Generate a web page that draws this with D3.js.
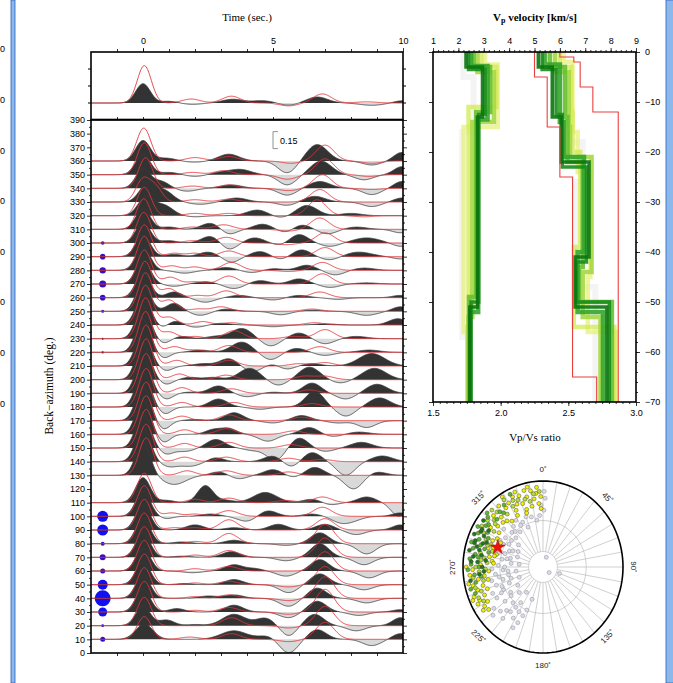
<!DOCTYPE html>
<html>
<head>
<meta charset="utf-8">
<script src="https://cdn.jsdelivr.net/npm/d3@7"></script>
<style>
  body { margin: 0; background: #fff; }
  svg { display: block; font-family: "Liberation Sans", Arial, sans-serif; }
  .serif { font-family: "Liberation Serif", "Times New Roman", serif; }
  .axis text { font-size: 9px; fill: #000; }
  .axis line { stroke: #000; stroke-width: 0.8; }
</style>
</head>
<body>
<div id="chart"></div>
<script>
// ---- receiver functions: pulses [time, amplitude, width] ----
var stackObs = [[0,0.17,.28],[1.0,0.015,.3],[1.9,-0.012,.35],[3.45,0.033,.4],[4.6,0.02,.4],[5.6,-0.02,.35],[6.7,0.053,.4],[8.8,-0.02,.45],[9.95,0.02,.3]];
var stackSyn = [[0.05,0.33,.27],[1.85,0.035,.35],[3.4,0.06,.35],[5.6,-0.025,.35],[6.9,0.08,.35],[8.6,0.01,.4]];

var traceBaz = [360,350,340,330,320,310,300,290,280,270,260,250,240,230,220,210,200,190,180,170,160,150,140,130,110,100,90,80,70,60,50,40,30,20,10];

var traceObs = [
  [[0,0.18,.28],[0.9,0.025,.35],[2.0,-0.01,.4],[3.3,0.06,.4],[5.55,-0.105,.35],[6.7,0.145,.4],[8.8,-0.035,.35],[9.95,0.075,.3]],
  [[0,0.18,.28],[1.0,0.02,.35],[2.0,-0.015,.35],[3.0,0.02,.35],[3.75,0.045,.4],[5.55,-0.09,.35],[6.85,0.12,.4],[8.5,-0.045,.35],[9.95,0.07,.3]],
  [[0,0.17,.28],[0.7,0.06,.3],[1.7,-0.025,.35],[3.4,0.03,.4],[5.55,-0.06,.35],[6.8,0.06,.4],[8.8,-0.055,.35],[9.95,0.06,.3]],
  [[0.15,0.15,.3],[0.8,0.1,.35],[2.2,-0.02,.4],[3.6,0.035,.4],[5.55,-0.03,.35],[6.6,0.05,.4],[8.8,-0.04,.35],[9.95,0.035,.3]],
  [[0.1,0.16,.3],[0.8,0.09,.35],[2.0,-0.01,.35],[4.4,0.05,.4],[5.3,-0.02,.35],[6.3,0.09,.4],[8.0,0.02,.4]],
  [[0,0.18,.28],[1.0,0.02,.3],[2.6,0.055,.35],[3.3,-0.045,.3],[4.6,0.045,.35],[5.5,-0.03,.3],[6.1,0.04,.35],[7.1,-0.04,.35],[8.2,0.02,.4],[9.9,-0.03,.3]],
  [[0,0.18,.28],[1.0,0.02,.3],[2.6,0.06,.35],[3.3,-0.06,.3],[4.3,0.045,.35],[5.3,-0.02,.3],[6.0,0.075,.35],[7.2,-0.03,.35],[8.6,0.045,.5],[9.9,-0.03,.3]],
  [[0,0.19,.28],[1.2,0.02,.3],[2.5,0.04,.35],[3.4,-0.05,.3],[4.5,0.045,.35],[5.3,-0.025,.3],[6.1,0.06,.35],[7.2,-0.03,.35],[8.3,0.04,.5],[9.9,-0.02,.3]],
  [[0,0.2,.28],[1.6,-0.025,.35],[3.2,0.025,.35],[4.2,-0.02,.35],[5.0,0.015,.35],[6.3,0.045,.35],[7.4,-0.04,.35],[8.5,0.02,.4]],
  [[0,0.21,.28],[1.2,-0.02,.3],[2.4,0.02,.35],[3.5,-0.04,.35],[4.5,0.03,.35],[6.0,0.045,.35],[7.2,-0.03,.35],[8.6,0.01,.4]],
  [[0,0.22,.28],[1.2,0.05,.3],[2.4,-0.04,.35],[3.7,0.02,.35],[5.0,-0.02,.35],[6.0,0.02,.35],[7.5,-0.015,.35],[9.9,0.02,.3]],
  [[0,0.24,.28],[1.2,0.07,.3],[2.2,-0.035,.35],[3.2,0.02,.35],[5.3,-0.03,.35],[6.5,0.01,.35],[8.6,-0.035,.4],[9.9,0.04,.3]],
  [[0,0.26,.28],[0.8,-0.03,.25],[1.2,0.04,.3],[2.0,-0.02,.35],[3.0,0.015,.35],[5.0,-0.015,.4],[7.0,0.01,.4],[9.8,0.055,.35]],
  [[0,0.28,.28],[0.8,-0.04,.25],[1.5,0.02,.3],[2.8,0.02,.35],[3.8,0.09,.4],[4.9,-0.065,.35],[6.0,0.05,.35],[7.0,-0.045,.35],[8.2,0.02,.4]],
  [[0,0.29,.28],[0.8,-0.05,.25],[2.2,0.02,.35],[3.8,0.09,.4],[4.9,-0.065,.35],[5.9,0.035,.35],[7.0,-0.027,.35],[8.7,0.02,.4]],
  [[0,0.3,.28],[0.9,-0.04,.25],[2.3,0.02,.35],[3.3,0.065,.35],[4.2,-0.05,.35],[5.0,0.02,.3],[5.5,-0.03,.3],[6.5,0.02,.35],[8.8,0.11,.5]],
  [[0,0.31,.28],[0.9,-0.04,.25],[1.8,0.02,.3],[2.7,0.02,.35],[4.1,0.1,.4],[5.2,-0.05,.35],[6.4,0.11,.4],[7.6,-0.03,.35],[8.9,0.1,.45]],
  [[0,0.31,.28],[0.9,-0.05,.25],[1.8,0.01,.3],[2.9,0.065,.35],[4.0,-0.03,.35],[5.0,0.01,.35],[6.5,0.09,.35],[7.8,-0.05,.35],[9.0,0.08,.4]],
  [[0,0.3,.28],[0.85,-0.06,.25],[2.9,0.07,.35],[4.5,-0.02,.35],[6.6,0.14,.35],[7.8,-0.08,.35],[9.1,0.08,.4]],
  [[0,0.3,.28],[0.8,-0.075,.25],[2.0,0.01,.35],[3.5,0.07,.35],[5.0,-0.02,.35],[6.1,0.045,.35],[7.5,-0.02,.35],[8.6,-0.06,.35]],
  [[0,0.3,.28],[0.8,-0.07,.25],[2.7,0.04,.3],[3.3,0.05,.3],[4.8,-0.06,.35],[6.4,0.06,.35],[7.3,-0.02,.35],[8.3,0.02,.4]],
  [[0,0.3,.28],[0.9,-0.05,.25],[1.6,-0.03,.35],[2.8,0.075,.35],[4.2,-0.02,.3],[5.1,-0.11,.35],[6.0,0.09,.35],[7.0,-0.03,.35],[8.4,0.05,.4]],
  [[0,0.3,.28],[1.0,-0.04,.3],[1.8,-0.04,.4],[2.8,0.035,.3],[5.0,0.05,.35],[5.7,-0.05,.3],[6.5,0.08,.35],[7.8,-0.12,.35],[9.2,0.05,.4]],
  [[0,0.29,.28],[1.2,-0.08,.45],[2.9,0.03,.3],[3.7,-0.03,.3],[5.0,0.05,.35],[5.8,-0.02,.3],[6.6,0.07,.35],[8.1,-0.12,.35],[9.0,0.03,.35]],
  [[0,0.22,.28],[0.9,0.02,.3],[2.4,0.15,.3],[3.2,0.02,.3],[4.7,0.09,.45],[6.5,0.03,.35],[7.2,-0.02,.3],[8.6,0.05,.35],[9.85,-0.12,.3]],
  [[0,0.22,.28],[0.9,-0.02,.25],[2.6,0.02,.35],[4.0,-0.045,.35],[4.8,0.05,.35],[6.5,0.02,.35],[7.6,-0.05,.35],[8.1,-0.03,.35],[9.9,0.03,.3]],
  [[0,0.22,.28],[2.0,0.045,.35],[3.5,0.02,.35],[5.2,0.05,.35],[7.0,0.05,.35],[8.2,-0.04,.35],[9.9,0.045,.3]],
  [[0,0.22,.28],[1.5,0.015,.35],[3.5,0.03,.35],[5.5,-0.015,.35],[6.8,0.095,.35],[8.6,-0.09,.35]],
  [[0,0.21,.28],[1.5,0.01,.35],[3.4,0.05,.35],[5.5,-0.03,.35],[6.8,0.12,.35],[8.5,-0.065,.35]],
  [[0,0.2,.28],[1.9,-0.015,.35],[3.5,0.055,.35],[4.3,0.02,.3],[5.5,-0.045,.35],[6.8,0.1,.35],[8.7,-0.06,.35]],
  [[0,0.2,.28],[1.6,0.01,.3],[3.5,0.045,.35],[5.6,-0.07,.35],[6.8,0.095,.35],[8.5,-0.045,.35]],
  [[0,0.2,.28],[2.5,0.02,.35],[3.5,0.03,.35],[5.6,-0.07,.35],[6.7,0.09,.35],[8.6,-0.04,.35]],
  [[0,0.2,.28],[1.3,0.03,.3],[3.5,0.06,.35],[5.6,-0.05,.35],[6.7,0.095,.35],[8.3,-0.03,.35],[9.9,0.02,.3]],
  [[0,0.17,.28],[0.9,0.05,.3],[2.0,0.01,.3],[3.5,0.1,.45],[4.7,0.065,.35],[5.6,-0.09,.3],[6.6,0.1,.35],[8.2,-0.045,.35],[9.9,0.07,.3]],
  [[0.05,0.135,.33],[3.5,0.075,.5],[4.8,0.03,.35],[5.6,-0.12,.35],[6.7,0.085,.35],[8.8,-0.055,.35],[9.9,0.05,.3]]
];

var traceSyn = [
  [[0.03,0.29,.27],[2.0,0.03,.35],[3.3,0.04,.35],[5.7,-0.02,.35],[7.0,0.14,.35],[8.8,-0.02,.35]],
  [[0.05,0.28,.27],[1.9,0.02,.35],[3.1,0.035,.35],[5.55,-0.04,.35],[7.0,0.14,.35],[8.7,-0.015,.35]],
  [[0.1,0.27,.27],[1.9,0.02,.35],[3.3,0.03,.35],[5.6,-0.02,.35],[6.9,0.12,.35],[8.8,-0.01,.35]],
  [[0,0.2,.27],[0.5,0.12,.25],[2.0,0.02,.35],[3.3,0.025,.35],[6.8,0.11,.35]],
  [[0.05,0.25,.27],[2.0,0.02,.35],[3.3,0.02,.35],[6.7,0.14,.35],[8.5,-0.01,.35]],
  [[0.03,0.27,.27],[1.9,0.02,.35],[3.1,0.04,.35],[5.6,-0.015,.35],[6.8,0.1,.35]],
  [[0.03,0.27,.27],[1.9,0.02,.35],[3.2,0.05,.35],[5.5,-0.015,.35],[7.0,0.09,.35]],
  [[0.05,0.28,.27],[1.2,0.03,.3],[2.0,0.03,.3],[3.3,0.05,.35],[7.0,0.08,.35]],
  [[0.05,0.3,.27],[1.1,0.04,.3],[2.0,0.03,.3],[3.4,0.07,.35],[5.6,-0.01,.35],[6.9,0.07,.35]],
  [[0.05,0.3,.27],[1.05,0.06,.3],[2.0,0.02,.3],[3.3,0.07,.35],[6.9,0.09,.35]],
  [[0.08,0.32,.27],[1.0,0.08,.3],[2.1,0.02,.3],[3.2,0.06,.35],[6.8,0.05,.35]],
  [[0.1,0.34,.27],[1.0,0.1,.3],[2.1,0.02,.3],[3.0,0.04,.35],[6.5,0.02,.35]],
  [[0.1,0.35,.27],[1.0,0.07,.3],[2.3,0.03,.3],[3.4,0.02,.35],[6.6,0.02,.35]],
  [[0.1,0.36,.27],[1.0,0.06,.3],[2.0,0.02,.3],[3.5,0.07,.35],[5.8,0.02,.35],[7.0,0.08,.35]],
  [[0.1,0.36,.27],[1.2,0.05,.3],[2.0,0.02,.3],[3.3,0.06,.35],[6.8,0.05,.35]],
  [[0.12,0.36,.27],[1.3,0.05,.3],[3.3,0.05,.35],[6.0,0.02,.35],[7.0,0.03,.35]],
  [[0.12,0.36,.27],[1.4,0.05,.3],[3.2,0.04,.35],[6.2,0.03,.35],[7.0,0.03,.35]],
  [[0.12,0.35,.27],[1.5,0.05,.3],[3.4,0.04,.35],[6.4,0.03,.35]],
  [[0.12,0.34,.27],[1.5,0.04,.3],[3.5,0.04,.35],[6.5,0.03,.35]],
  [[0.12,0.34,.27],[1.5,0.04,.3],[3.3,0.05,.35],[6.1,0.03,.35]],
  [[0.12,0.34,.27],[1.6,0.04,.3],[3.2,0.05,.35],[5.8,0.03,.35]],
  [[0.12,0.34,.27],[1.6,0.04,.3],[3.3,0.05,.35],[5.7,0.03,.35]],
  [[0.12,0.33,.27],[1.6,0.04,.3],[3.2,0.04,.35],[5.6,0.03,.35],[6.9,0.02,.35]],
  [[0.12,0.33,.27],[1.7,0.04,.3],[3.2,0.04,.35],[5.6,0.03,.35]],
  [[0.05,0.26,.27],[2.0,0.03,.3],[3.3,0.04,.35],[5.5,0.02,.35],[6.9,0.05,.35]],
  [[0.05,0.27,.27],[1.1,0.03,.3],[2.0,0.02,.3],[3.3,0.05,.35],[6.9,0.08,.35]],
  [[0.05,0.27,.27],[1.2,0.02,.3],[2.0,0.02,.3],[3.3,0.09,.35],[7.0,0.1,.35]],
  [[0.05,0.27,.27],[2.0,0.02,.3],[3.3,0.09,.35],[7.0,0.17,.35]],
  [[0.05,0.27,.27],[2.0,0.02,.3],[3.3,0.06,.35],[7.0,0.17,.35]],
  [[0.05,0.27,.27],[2.0,0.02,.3],[3.3,0.04,.35],[7.0,0.17,.35]],
  [[0.05,0.27,.27],[2.0,0.015,.3],[3.3,0.03,.35],[5.6,-0.02,.35],[7.0,0.16,.35]],
  [[0.05,0.27,.27],[2.0,0.015,.3],[3.3,0.03,.35],[5.6,-0.02,.35],[7.0,0.19,.35]],
  [[0.05,0.27,.27],[2.0,0.015,.3],[3.3,0.04,.35],[5.6,-0.02,.35],[7.0,0.2,.35]],
  [[0.05,0.25,.27],[3.4,0.07,.35],[5.6,-0.02,.35],[7.0,0.17,.35]],
  [[0.05,0.2,.27],[1.8,0.02,.35],[3.4,0.05,.35],[5.6,-0.02,.35],[7.0,0.15,.35]]
];

// blue circles beside the traces (number of events per bin)
var binBaz  = [10, 20, 30, 40, 50, 60, 70, 80, 90, 100, 220, 230, 250, 260, 270, 280, 290, 300];
var binSize = [2.5,1.4,4.5,8, 5, 2.5,3, 2, 5.5,5.5, 1.2, 1, 1.5, 2.8, 3.5, 3.2, 2.8, 1.8];

// ---- velocity models: [depth of layer top (km), velocity] ----
var vpLowBound  = [[0,5.0],[5,5.5],[15,6.0],[25,6.5],[65,7.45]];
var vpHighBound = [[0,6.0],[1,6.55],[2,6.8],[7,7.3],[12,8.3]];
var vpModels = [
  [[0,5.9],[5,6.4],[18,6.9],[26,6.6],[47,7.4],[58,7.4]],
  [[0,6.15],[2,6.5],[16,6.7],[24,7.2],[45,7.1],[56,8.2]],
  [[0,6.0],[3,6.45],[12,6.5],[20,6.8],[39,6.55],[55,8.15]],
  [[0,5.8],[4,6.35],[15,6.4],[21,7.25],[44,6.9],[53,7.6]],
  [[0,5.6],[3,6.2],[13,6.3],[22,6.9],[43,6.75],[50,8.05]],
  [[0,5.4],[2.5,6.0],[14,6.15],[21,6.95],[40,6.7],[52,7.7]],
  [[0,5.3],[3.5,5.85],[12.5,6.1],[23,7.05],[42,6.65],[50,7.95]],
  [[0,5.15],[3,5.7],[13,6.05],[22,7.15],[41,6.6],[51,7.85]]
];
var vsModels = [
  [[0,2.2],[5,2.6],[16,2.15],[57,2.4]],
  [[0,3.05],[2.5,3.55],[15,2.2],[56,2.35]],
  [[0,2.9],[3,3.5],[11,2.4],[55,2.35]],
  [[0,2.75],[4,3.4],[14,2.55],[53,2.4]],
  [[0,2.6],[3,3.25],[12,2.7],[49,2.42]],
  [[0,2.5],[2.8,3.15],[13.5,2.78],[52,2.47]],
  [[0,2.4],[3.5,3.05],[12.5,2.8],[50,2.5]],
  [[0,2.3],[3,2.95],[13,2.75],[51,2.45]]
];
var modelColors = ['#f0f0f0','#e8f07a','#d2ea52','#a6d844','#66c030','#34a52c','#188c1c','#0b740e'];

// ---- event map: [back-azimuth, distance (0..1), colour class] ----
var polarPoints = [
  [356,0.6,0],[352,0.55,0],[346,0.6,0],[340,0.62,0],[334,0.58,0],[328,0.64,0],[322,0.6,0],[316,0.56,0],[312,0.66,0],[306,0.58,0],
  [302,0.5,0],[298,0.56,0],[294,0.46,0],[288,0.5,0],[284,0.42,0],[280,0.52,0],[276,0.4,0],[272,0.56,0],[266,0.5,0],[262,0.6,0],
  [258,0.44,0],[254,0.52,0],[250,0.62,0],[246,0.46,0],[242,0.56,0],[238,0.68,0],[234,0.5,0],[230,0.62,0],[226,0.74,0],[222,0.56,0],
  [218,0.66,0],[214,0.5,0],[210,0.6,0],[206,0.72,0],[202,0.54,0],[232,0.78,0],[228,0.84,0],[236,0.38,0],[248,0.32,0],[262,0.34,0],
  [276,0.3,0],[290,0.34,0],[300,0.36,0],[310,0.4,0],[244,0.7,0],[256,0.66,0],[268,0.64,0],[315,0.48,0],[325,0.5,0],[200,0.4,0],
  [215,0.36,0],[225,0.42,0],[20,0.12,0],[130,0.1,0],[110,0.22,0],[358,0.72,0],[2,0.8,0],[1,0.66,0],[220,0.78,0],[212,0.7,0],
  [240,0.6,0],[252,0.42,0],[264,0.44,0],[282,0.46,0],[296,0.42,0],[308,0.5,0],[320,0.54,0],[330,0.56,0],[338,0.5,0],[216,0.58,0],
  [222,0.68,0],[230,0.52,0],[246,0.56,0],[258,0.56,0],[270,0.48,0],[286,0.58,0],[300,0.62,0],[204,0.62,0],[208,0.8,0],[1,0.88,0],
  [355,0.93,1],[350,0.9,1],[345,0.92,1],[340,0.88,1],[335,0.9,1],[330,0.86,1],[358,0.82,1],[352,0.8,1],[346,0.84,1],[341,0.78,1],
  [336,0.8,1],[326,0.83,1],[322,0.9,1],[318,0.78,1],[314,0.86,1],[310,0.74,1],[305,0.8,1],[300,0.66,1],[296,0.7,1],[292,0.62,1],
  [288,0.72,1],[284,0.6,1],[280,0.68,1],[276,0.64,1],[272,0.78,1],[268,0.88,1],[264,0.92,1],[260,0.82,1],[256,0.9,1],[252,0.86,1],
  [248,0.93,1],[244,0.88,1],[240,0.8,1],[236,0.9,1],[358,0.68,1],[356,0.74,1],[349,0.72,1],[343,0.7,1],[333,0.74,1],[320,0.7,1],
  [262,0.74,1],[254,0.78,1],[246,0.8,1],[238,0.86,1],[242,0.92,1],[348,0.95,1],[338,0.94,1],[328,0.96,1],[354,0.86,1],[342,0.66,1],
  [332,0.68,1],[324,0.66,1],[316,0.72,1],[306,0.68,1],[298,0.6,1],[290,0.66,1],[282,0.62,1],[274,0.62,1],[266,0.68,1],[258,0.7,1],
  [250,0.74,1],[234,0.84,1],[246,0.96,1],[258,0.95,1],[270,0.96,1],
  [352,0.86,2],[344,0.82,2],[338,0.84,2],[332,0.8,2],[328,0.92,2],[324,0.76,2],[316,0.92,2],[312,0.82,2],[308,0.88,2],[302,0.9,2],
  [298,0.84,2],[294,0.78,2],[290,0.74,2],[286,0.66,2],[282,0.8,2],[278,0.74,2],[274,0.7,2],[270,0.84,2],[266,0.8,2],[262,0.88,2],
  [258,0.76,2],[250,0.82,2],[242,0.84,2],[357,0.88,2],[348,0.78,2],[334,0.86,2],[318,0.86,2],[304,0.74,2],[292,0.7,2],[276,0.78,2],
  [254,0.88,2],[246,0.88,2],[268,0.72,2],[310,0.78,2],
  [334,0.94,3],[326,0.87,3],[320,0.84,3],[314,0.8,3],[310,0.9,3],[304,0.86,3],[300,0.94,3],[296,0.9,3],[292,0.86,3],[288,0.82,3],
  [284,0.9,3],[280,0.86,3],[276,0.92,3],[272,0.9,3],[268,0.94,3],[264,0.86,3],[258,0.86,3],[254,0.94,3],[286,0.76,3],[296,0.76,3],
  [322,0.8,3],[312,0.94,3],[300,0.8,3],[288,0.94,3],[278,0.82,3],[270,0.8,3],[262,0.78,3],[250,0.9,3],[306,0.84,3],[284,0.7,3],
  [306,0.92,4],[302,0.8,4],[298,0.88,4],[294,0.94,4],[290,0.9,4],[286,0.86,4],[282,0.94,4],[278,0.88,4],[274,0.82,4],[270,0.76,4],
  [290,0.8,4],[280,0.78,4],[266,0.74,4],[260,0.92,4],[296,0.82,4],[284,0.82,4],[274,0.9,4],[292,0.76,4],[300,0.88,4],[288,0.9,4],
  [276,0.72,4],[264,0.8,4]
];
var pointFill = ['#dcdce6','#f0f000','#b4e03a','#5cb62e','#1d781d'];
var stationStar = [292, 0.61];
var polarLabels = [0,45,90,135,180,225,270,315];

// ---------------------------------------------------------------
var svg = d3.select('#chart').append('svg')
  .attr('width', 673).attr('height', 683)
  .style('background', '#fff');

// window border and neighbour labels at the edge
svg.append('rect').attr('x', 11).attr('y', 0).attr('width', 4).attr('height', 683)
  .attr('fill', '#8cb8ec').attr('stroke', '#2b5fbf').attr('stroke-width', 0.8);
svg.append('rect').attr('x', 666).attr('y', 0).attr('width', 9).attr('height', 683)
  .attr('fill', '#8cb8ec').attr('stroke', '#2b5fbf').attr('stroke-width', 0.8);
[48, 99, 150, 200, 251, 301, 352, 403].forEach(function(y) {
  svg.append('text').attr('x', 0).attr('y', y + 3.5).attr('font-size', 9).text('0');
});

var x = d3.scaleLinear().domain([-2, 10]).range([91, 403]);
var y = d3.scaleLinear().domain([0, 390]).range([653, 120]);
var amp = d3.scaleLinear().domain([0, 0.15]).range([0, 17]);
var tGrid = d3.range(-2, 10.001, 0.025);

function wave(pulses, t) {
  return d3.sum(pulses, function(p) { return p[1] * Math.exp(-0.5 * Math.pow((t - p[0]) / p[2], 2)); });
}

var defs = svg.append('defs');
defs.append('clipPath').attr('id', 'clipTop').append('rect')
  .attr('x', 91).attr('y', 52).attr('width', 312).attr('height', 67);
defs.append('clipPath').attr('id', 'clipMain').append('rect')
  .attr('x', 91).attr('y', 120).attr('width', 312).attr('height', 533);

function drawTrace(g, base, obs, syn) {
  var vals = tGrid.map(function(t) { return { t: t, o: wave(obs, t), s: wave(syn, t) }; });
  g.append('path').datum(vals)
    .attr('d', d3.area().x(function(d) { return x(d.t); }).y0(base)
      .y1(function(d) { return base - amp(Math.max(d.o, 0)); }))
    .attr('fill', '#333');
  g.append('path').datum(vals)
    .attr('d', d3.area().x(function(d) { return x(d.t); }).y0(base)
      .y1(function(d) { return base - amp(Math.min(d.o, 0)); }))
    .attr('fill', '#d9d9d9');
  g.append('path').datum(vals)
    .attr('d', d3.line().x(function(d) { return x(d.t); }).y(function(d) { return base - amp(d.o); }))
    .attr('fill', 'none').attr('stroke', '#3a3a3a').attr('stroke-width', 0.8);
  g.append('path').datum(vals)
    .attr('d', d3.line().x(function(d) { return x(d.t); }).y(function(d) { return base - amp(d.s); }))
    .attr('fill', 'none').attr('stroke', '#e3343a').attr('stroke-width', 0.9);
}

// top stacked trace
var gTop = svg.append('g').attr('clip-path', 'url(#clipTop)');
drawTrace(gTop, 103, stackObs, stackSyn);

// blue circles then traces
var gMain = svg.append('g').attr('clip-path', 'url(#clipMain)');
gMain.selectAll('circle.bin').data(binBaz).enter().append('circle')
  .attr('cx', x(-1.55))
  .attr('cy', function(d) { return y(d); })
  .attr('r', function(d, i) { return binSize[i]; })
  .attr('fill', function(d, i) { return binSize[i] > 4 ? '#1010f0' : '#3a0cc8'; });
traceBaz.forEach(function(b, i) {
  drawTrace(gMain, y(b), traceObs[i], traceSyn[i]);
});

// amplitude scale bar
var sb = svg.append('g');
sb.append('path')
  .attr('d', 'M' + (x(5) + 5) + ',' + y(381.5) + 'H' + x(5) + 'V' + (y(381.5) + amp(0.15)) + 'H' + (x(5) + 5))
  .attr('fill', 'none').attr('stroke', '#777').attr('stroke-width', 0.8);
sb.append('text').attr('x', x(5) + 7).attr('y', y(381.5) + 12).attr('font-size', 9).text('0.15');

// frames
svg.append('rect').attr('x', 91).attr('y', 52).attr('width', 312).attr('height', 67.5)
  .attr('fill', 'none').attr('stroke', '#000').attr('stroke-width', 1.6);
svg.append('rect').attr('x', 91).attr('y', 120).attr('width', 312).attr('height', 533)
  .attr('fill', 'none').attr('stroke', '#000').attr('stroke-width', 1.6);

function styleAxis(g) { g.select('.domain').remove(); g.attr('class', 'axis'); }

// time axes
svg.append('g').attr('transform', 'translate(0,52)')
  .call(d3.axisTop(x).tickValues([0, 5, 10]).tickSize(4).tickPadding(4)).call(styleAxis);
[52, 120, 653].forEach(function(yy, k) {
  svg.append('g').attr('transform', 'translate(0,' + yy + ')')
    .call((k < 2 ? d3.axisTop(x) : d3.axisBottom(x))
      .tickValues(d3.range(-1, 10, 1)).tickSize(3).tickFormat(''))
    .call(styleAxis);
});
// top panel amplitude ticks
var ampTicks = [0, 0.15, 0.3];
ampTicks.forEach(function(a) {
  svg.append('line').attr('x1', 88).attr('x2', 91).attr('y1', 103 - amp(a)).attr('y2', 103 - amp(a)).attr('stroke', '#000');
  svg.append('line').attr('x1', 403).attr('x2', 406).attr('y1', 103 - amp(a)).attr('y2', 103 - amp(a)).attr('stroke', '#000');
});

// back-azimuth axes
svg.append('g').attr('transform', 'translate(91,0)')
  .call(d3.axisLeft(y).tickValues(d3.range(0, 391, 10)).tickSize(4).tickPadding(2)).call(styleAxis);
svg.append('g').attr('transform', 'translate(91,0)')
  .call(d3.axisLeft(y).tickValues(d3.range(5, 390, 10)).tickSize(2).tickFormat('')).call(styleAxis);
svg.append('g').attr('transform', 'translate(403,0)')
  .call(d3.axisRight(y).tickValues(d3.range(0, 391, 10)).tickSize(4).tickFormat('')).call(styleAxis);
svg.append('g').attr('transform', 'translate(403,0)')
  .call(d3.axisRight(y).tickValues(d3.range(5, 390, 10)).tickSize(2).tickFormat('')).call(styleAxis);

svg.append('text').attr('class', 'serif').attr('x', 247).attr('y', 21)
  .attr('text-anchor', 'middle').attr('font-size', 11).text('Time (sec.)');
svg.append('text').attr('class', 'serif')
  .attr('transform', 'translate(53,386) rotate(-90)')
  .attr('text-anchor', 'middle').attr('font-size', 11.5).text('Back\u2212azimuth (deg.)');

// ---- velocity panel ----
var vx = d3.scaleLinear().domain([1, 9]).range([433, 636]);
var rx = d3.scaleLinear().domain([1.5, 3.0]).range([433, 636]);
var vy = d3.scaleLinear().domain([0, 70]).range([52, 402]);

function stepPoints(model) {
  var pts = [];
  model.forEach(function(m, i) {
    var bottom = i < model.length - 1 ? model[i + 1][0] : 70;
    pts.push([m[1], m[0]], [m[1], bottom]);
  });
  return pts;
}
var stepLine = d3.line().x(function(d) { return vx(d[0]); }).y(function(d) { return vy(d[1]); });

var gVel = svg.append('g');
[vsModels, vpModels].forEach(function(models) {
  models.forEach(function(m, i) {
    gVel.append('path').attr('d', stepLine(stepPoints(m)))
      .attr('fill', 'none').attr('stroke', modelColors[i])
      .attr('stroke-width', i === 0 ? 6 : (i > 5 ? 3.5 : 4.5)).attr('stroke-opacity', i < 3 ? 0.75 : 0.9);
  });
});
[vpLowBound, vpHighBound].forEach(function(b) {
  gVel.append('path').attr('d', stepLine(stepPoints(b)))
    .attr('fill', 'none').attr('stroke', '#e8403f').attr('stroke-width', 1.1);
});

svg.append('rect').attr('x', 433).attr('y', 52).attr('width', 203).attr('height', 350)
  .attr('fill', 'none').attr('stroke', '#000').attr('stroke-width', 1.6);

svg.append('g').attr('transform', 'translate(0,52)')
  .call(d3.axisTop(vx).tickValues(d3.range(1, 10, 1)).tickSize(4).tickPadding(4)).call(styleAxis);
svg.append('g').attr('transform', 'translate(0,52)')
  .call(d3.axisTop(vx).tickValues(d3.range(1.2, 9, 0.2)).tickSize(2).tickFormat('')).call(styleAxis);
svg.append('g').attr('transform', 'translate(0,402)')
  .call(d3.axisBottom(rx).tickValues([1.5, 2.0, 2.5, 3.0]).tickSize(4).tickPadding(4).tickFormat(d3.format('.1f'))).call(styleAxis);
svg.append('g').attr('transform', 'translate(0,402)')
  .call(d3.axisBottom(rx).tickValues(d3.range(1.55, 3.0, 0.05)).tickSize(2).tickFormat('')).call(styleAxis);
svg.append('g').attr('transform', 'translate(636,0)')
  .call(d3.axisRight(vy).tickValues(d3.range(0, 71, 10)).tickSize(4).tickPadding(5)
    .tickFormat(function(d) { return d === 0 ? '0' : '\u2212' + d; })).call(styleAxis);
svg.append('g').attr('transform', 'translate(636,0)')
  .call(d3.axisRight(vy).tickValues(d3.range(2, 70, 2)).tickSize(2).tickFormat('')).call(styleAxis);
svg.append('g').attr('transform', 'translate(433,0)')
  .call(d3.axisLeft(vy).tickValues(d3.range(0, 71, 10)).tickSize(4).tickFormat('')).call(styleAxis);

var vt = svg.append('text').attr('class', 'serif').attr('x', 535).attr('y', 21)
  .attr('text-anchor', 'middle').attr('font-size', 11).attr('font-weight', 'bold');
vt.append('tspan').text('V');
vt.append('tspan').attr('font-size', 8).attr('dy', 2).text('p');
vt.append('tspan').attr('dy', -2).text(' velocity [km/s]');
svg.append('text').attr('class', 'serif').attr('x', 535).attr('y', 441)
  .attr('text-anchor', 'middle').attr('font-size', 11).text('Vp/Vs ratio');

// ---- event map ----
var px = d3.scaleLinear().domain([-1, 1]).range([463, 623]);
var py = d3.scaleLinear().domain([-1, 1]).range([653, 481]);
function polar(az, r) {
  var a = az * Math.PI / 180;
  return [px(r * Math.sin(a)), py(r * Math.cos(a))];
}
function ring(r) {
  return d3.line()(d3.range(0, 361, 3).map(function(az) { return polar(az, r); })) + 'Z';
}
var gPol = svg.append('g');
d3.range(0, 360, 10).forEach(function(az) {
  var p0 = polar(az, 0.18), p1 = polar(az, 1);
  gPol.append('line').attr('x1', p0[0]).attr('y1', p0[1]).attr('x2', p1[0]).attr('y2', p1[1])
    .attr('stroke', '#b0b0b0').attr('stroke-width', 0.6);
});
gPol.append('path').attr('d', ring(0.18)).attr('fill', 'none').attr('stroke', '#b0b0b0').attr('stroke-width', 0.6);
gPol.append('path').attr('d', ring(0.54)).attr('fill', 'none').attr('stroke', '#b0b0b0').attr('stroke-width', 0.6);

[0, 1, 2, 3, 4].forEach(function(c) {
  gPol.selectAll(null).data(polarPoints.filter(function(p) { return p[2] === c; })).enter()
    .append('circle')
    .attr('cx', function(p) { return polar(p[0], p[1])[0]; })
    .attr('cy', function(p) { return polar(p[0], p[1])[1]; })
    .attr('r', 2)
    .attr('fill', pointFill[c])
    .attr('stroke', c === 0 ? '#8a8a99' : '#4a4a3a').attr('stroke-width', 0.5);
});
gPol.append('path').attr('d', ring(1)).attr('fill', 'none').attr('stroke', '#000').attr('stroke-width', 1.6);

var sp = polar(stationStar[0], stationStar[1]);
gPol.append('path')
  .attr('d', d3.symbol().type(d3.symbolStar).size(70)())
  .attr('transform', 'translate(' + sp[0] + ',' + sp[1] + ')')
  .attr('fill', '#ee1111').attr('stroke', '#aa0000').attr('stroke-width', 0.4);

polarLabels.forEach(function(az) {
  var p = polar(az, 1.14);
  var rot = az <= 90 ? az : (az < 270 ? az - 180 : az - 360);
  gPol.append('text')
    .attr('transform', 'translate(' + p[0] + ',' + p[1] + ') rotate(' + rot + ')')
    .attr('text-anchor', 'middle').attr('dy', '0.35em')
    .attr('font-size', 8).attr('fill', '#222').text(az + '\u02DA');
});
</script>
</body>
</html>
